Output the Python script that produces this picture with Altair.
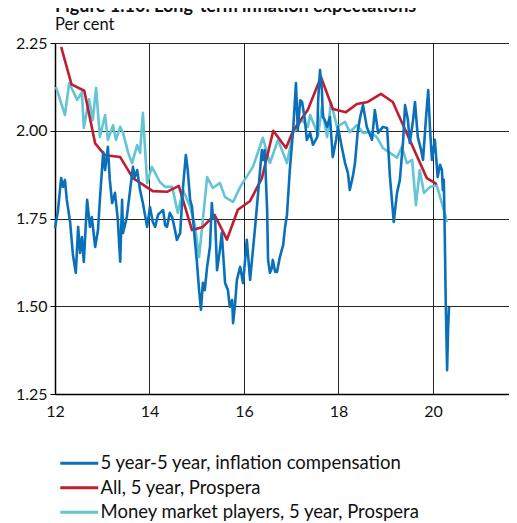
import altair as alt
import pandas as pd

FONT = "Lato"

series_names = [
    "5 year-5 year, inflation compensation",
    "All, 5 year, Prospera",
    "Money market players, 5 year, Prospera",
]
series_colors = ["#0A70BA", "#BE1E2D", "#62C4D4"]

# 5 year-5 year inflation compensation (decimal year, per cent)
be_year = [12.0, 12.06, 12.13, 12.17, 12.21, 12.25, 12.32, 12.38, 12.44, 12.49, 12.53, 12.57, 12.61,
           12.68, 12.74, 12.78, 12.85, 12.91, 12.95, 13.02, 13.06, 13.12, 13.16, 13.21, 13.27, 13.33,
           13.38, 13.42, 13.44, 13.52, 13.59, 13.65, 13.69, 13.74, 13.8, 13.86, 13.95, 14.01, 14.07,
           14.12, 14.18, 14.22, 14.29, 14.33, 14.37, 14.43, 14.48, 14.54, 14.58, 14.65, 14.71, 14.77,
           14.81, 14.86, 14.9, 14.96, 15.0, 15.05, 15.09, 15.13, 15.17, 15.22, 15.28, 15.32, 15.34,
           15.39, 15.43, 15.49, 15.53, 15.6, 15.66, 15.7, 15.75, 15.77, 15.81, 15.85, 15.92, 15.98,
           16.02, 16.06, 16.13, 16.17, 16.23, 16.3, 16.36, 16.38, 16.4, 16.44, 16.49, 16.51, 16.55,
           16.59, 16.61, 16.66, 16.7, 16.76, 16.83, 16.87, 16.91, 16.97, 17.04, 17.1, 17.14, 17.19,
           17.23, 17.29, 17.33, 17.4, 17.46, 17.55, 17.57, 17.61, 17.65, 17.67, 17.71, 17.76, 17.82,
           17.88, 17.95, 17.99, 18.07, 18.14, 18.2, 18.24, 18.31, 18.35, 18.41, 18.46, 18.52, 18.6,
           18.67, 18.71, 18.77, 18.84, 18.94, 19.03, 19.09, 19.15, 19.17, 19.24, 19.3, 19.37, 19.41,
           19.47, 19.51, 19.58, 19.62, 19.68, 19.75, 19.79, 19.85, 19.9, 19.94, 19.98, 20.04, 20.1,
           20.15, 20.19, 20.21, 20.23, 20.25, 20.27, 20.3, 20.32, 20.34]
be_value = [1.723, 1.769, 1.865, 1.84, 1.86, 1.803, 1.74, 1.646, 1.595, 1.726, 1.652, 1.697, 1.626,
            1.803, 1.726, 1.754, 1.669, 1.717, 1.803, 1.939, 1.888, 1.954, 1.86, 1.794, 1.823, 1.746,
            1.627, 1.803, 1.709, 1.754, 1.831, 1.897, 1.868, 1.888, 1.831, 1.794, 1.726, 1.783, 1.74,
            1.726, 1.76, 1.766, 1.774, 1.731, 1.726, 1.766, 1.754, 1.717, 1.689, 1.709, 1.84, 1.931,
            1.888, 1.803, 1.783, 1.689, 1.632, 1.546, 1.49, 1.567, 1.546, 1.612, 1.669, 1.794, 1.76,
            1.746, 1.603, 1.66, 1.709, 1.566, 1.546, 1.498, 1.518, 1.452, 1.504, 1.575, 1.612, 1.566,
            1.626, 1.689, 1.575, 1.632, 1.717, 1.823, 1.917, 1.945, 1.917, 1.945, 1.774, 1.632, 1.595,
            1.609, 1.632, 1.598, 1.598, 1.64, 1.675, 1.726, 1.76, 1.888, 2.0, 2.136, 2.0, 2.087,
            2.082, 2.031, 1.974, 1.994, 1.96, 1.982, 2.087, 2.173, 2.116, 2.039, 2.031, 2.011, 2.039,
            1.925, 1.974, 2.011, 1.954, 1.908, 1.88, 1.831, 1.874, 1.908, 2.0, 2.039, 2.073, 2.011,
            1.988, 1.974, 2.059, 1.994, 2.011, 2.008, 1.868, 1.774, 1.74, 1.823, 1.86, 1.974, 2.073,
            2.031, 1.965, 2.031, 2.082, 1.982, 1.945, 1.917, 2.031, 2.116, 2.0, 1.917, 1.974, 1.868,
            1.903, 1.888, 1.831, 1.86, 1.709, 1.518, 1.318, 1.432, 1.498]

# All, 5 year, Prospera
all_year = [12.13, 12.35, 12.62, 12.85, 13.06, 13.38, 13.65, 14.07, 14.37, 14.62, 14.9, 15.13,
            15.38, 15.64, 15.87, 16.13, 16.38, 16.62, 16.89, 17.04, 17.35, 17.63, 17.88, 18.16,
            18.39, 18.62, 18.9, 19.15, 19.87, 20.08]
all_value = [2.239, 2.132, 2.114, 1.964, 1.93, 1.925, 1.865, 1.828, 1.826, 1.843, 1.717, 1.726,
             1.76, 1.69, 1.775, 1.80, 1.865, 2.0, 1.951, 2.0, 2.059, 2.153, 2.062, 2.053,
             2.076, 2.082, 2.105, 2.082, 1.865, 1.848]

# Money market players, 5 year, Prospera
mm_year = [12.02, 12.21, 12.3, 12.47, 12.57, 12.61, 12.72, 12.8, 12.87, 12.95, 13.06, 13.12, 13.23,
           13.29, 13.38, 13.44, 13.55, 13.63, 13.74, 13.8, 13.86, 13.95, 14.05, 14.22, 14.33, 14.48,
           14.6, 14.71, 14.86, 14.96, 15.05, 15.22, 15.34, 15.49, 15.6, 15.77, 15.92, 16.19, 16.4,
           16.55, 16.72, 16.91, 17.04, 17.23, 17.35, 17.4, 17.57, 17.65, 17.76, 17.84, 17.97, 18.14,
           18.24, 18.39, 18.52, 18.67, 18.81, 18.94, 19.09, 19.24, 19.34, 19.45, 19.56, 19.64, 19.72,
           19.81, 19.94, 20.08, 20.3]
mm_value = [2.125, 2.045, 2.136, 2.088, 2.11, 2.008, 2.09, 2.031, 2.122, 1.982, 2.045, 1.974, 2.016,
            1.974, 2.011, 1.994, 1.937, 1.908, 1.959, 1.937, 2.051, 1.851, 1.897, 1.854, 1.84, 1.84,
            1.766, 1.831, 1.783, 1.731, 1.64, 1.868, 1.837, 1.851, 1.811, 1.797, 1.84, 1.897, 1.98,
            1.908, 1.974, 1.908, 1.994, 2.031, 2.011, 2.045, 1.988, 2.068, 1.982, 2.082, 2.011, 2.025,
            1.996, 2.016, 1.994, 1.996, 1.982, 1.951, 1.937, 1.923, 1.954, 1.908, 1.917, 1.788, 1.888,
            1.823, 1.84, 1.845, 1.74]

x_ticks = [12, 14, 16, 18, 20]
y_ticks = [1.25, 1.5, 1.75, 2.0, 2.25]

frames = []
for name, xs, ys in [
    (series_names[0], be_year, be_value),
    (series_names[1], all_year, all_value),
    (series_names[2], mm_year, mm_value),
]:
    frames.append(pd.DataFrame({"year": xs, "value": ys, "series": name}))
df = pd.concat(frames, ignore_index=True)

color = alt.Color(
    "series:N",
    scale=alt.Scale(domain=series_names, range=series_colors),
    legend=alt.Legend(
        orient="none", legendX=15, legendY=411, title=None,
        symbolType="M-4,0H4", symbolSize=90, symbolStrokeWidth=3,
        labelFont=FONT, labelFontSize=18.5, labelColor="#111111",
        labelOffset=12, rowPadding=5.5, padding=0, labelLimit=500,
    ),
)

x = alt.X("year:Q", title=None,
          scale=alt.Scale(domain=[12, 21.61], nice=False, zero=False),
          axis=alt.Axis(values=x_ticks, format="d", grid=True, tickSize=0, labelPadding=9,
                        labelFlush=False,
                        labelFont=FONT, labelFontSize=16, labelColor="#111111",
                        domainColor="#000000", domainWidth=1.5,
                        gridColor="#000000", gridWidth=1, gridOpacity=0.85))
y = alt.Y("value:Q", title=None,
          scale=alt.Scale(domain=[1.25, 2.25], nice=False, zero=False),
          axis=alt.Axis(values=y_ticks, format=".2f", grid=True, tickSize=5, tickColor="#000000",
                        labelPadding=3, labelFont=FONT, labelFontSize=16, labelColor="#111111",
                        domainColor="#000000", domainWidth=1.5,
                        gridColor="#000000", gridWidth=1, gridOpacity=0.85))

base = alt.Chart(df)
layers = []
for name in [series_names[2], series_names[1], series_names[0]]:
    layers.append(
        base.transform_filter(alt.datum.series == name)
        .mark_line(strokeWidth=2.6, strokeJoin="round")
        .encode(x=x, y=y, color=color, order="year:Q")
    )

chart = alt.layer(*layers).properties(
    width=454,
    height=351,
    autosize=alt.AutoSizeParams(type="none"),
    padding={"left": 47, "top": 35, "right": 0, "bottom": 128},
    title=alt.TitleParams(
        text="Figure 1.10. Long-term inflation expectations",
        subtitle="Per cent",
        anchor="start", frame="group", font=FONT, fontSize=18, fontWeight="bold",
        color="#111111", subtitleFont=FONT, subtitleFontSize=16.5, subtitleColor="#111111",
        subtitlePadding=0.5, offset=2,
    ),
).configure_view(stroke="transparent")

chart.save("out.html", embed_options={"renderer": "svg", "actions": False})
